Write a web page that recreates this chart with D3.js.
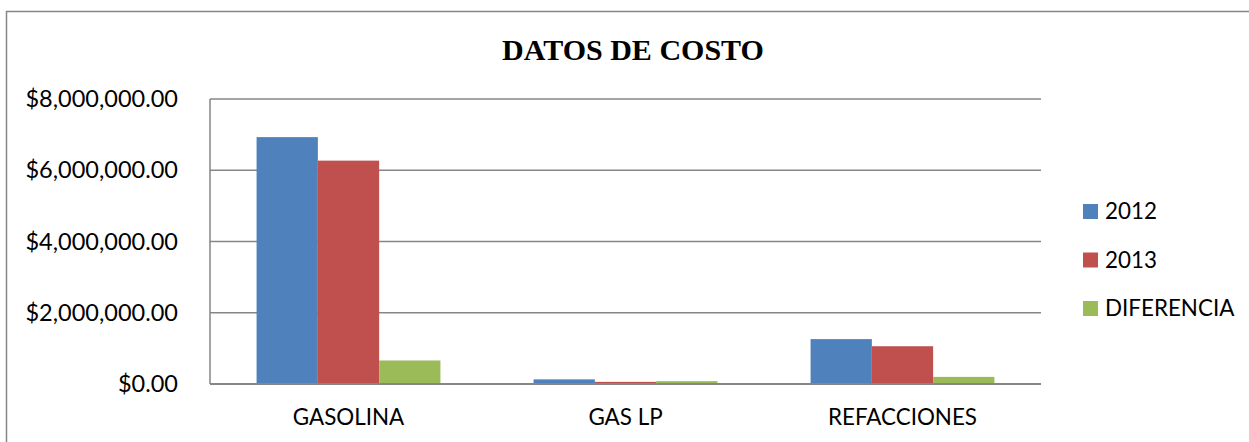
<!DOCTYPE html>
<html>
<head>
<meta charset="utf-8">
<style>
    body { margin: 0; background: #fff; }
    svg { display: block; }
    .tick-label, .cat-label, .legend-label {
        font-family: Lato, 'Open Sans', sans-serif;
        fill: #000;
    }
    .title {
        font-family: 'Liberation Serif', 'DejaVu Serif', serif;
        font-weight: bold;
    }
</style>
</head>
<body>
<svg width="1249" height="442"></svg>

<script src="https://d3js.org/d3.v7.min.js"></script>
<script>
    // data
    let categories = ["GASOLINA", "GAS LP", "REFACCIONES"]
    let seriesNames = ["2012", "2013", "DIFERENCIA"]
    let values2012 = [6930000, 130000, 1260000]
    let values2013 = [6270000, 60000, 1060000]
    let valuesDif = [660000, 80000, 200000]
    let yTicks = [0, 2000000, 4000000, 6000000, 8000000]

    let colors = ["#4F81BD", "#C0504D", "#9BBB59"]
    let seriesValues = [values2012, values2013, valuesDif]

    let svg = d3.select("svg")

    // outer chart frame
    svg.append("rect")
        .attr("x", 6.5).attr("y", 11.5)
        .attr("width", 1260).attr("height", 450)
        .style("fill", "none")
        .style("stroke", "#868686")
        .style("stroke-width", 1.5)

    let plot = { left: 210, right: 1041, top: 99, bottom: 384 }

    let x = d3.scaleBand()
        .domain(categories)
        .range([plot.left, plot.right])
        .paddingInner(0)
        .paddingOuter(0)

    let xInner = d3.scaleBand()
        .domain(seriesNames)
        .range([0, x.bandwidth()])
        .paddingOuter(0.76)
        .paddingInner(0)

    let y = d3.scaleLinear()
        .domain([0, 8000000])
        .range([plot.bottom, plot.top])

    // gridlines
    svg.append("g")
        .selectAll("line")
        .data(yTicks)
        .join("line")
        .attr("x1", plot.left)
        .attr("x2", plot.right)
        .attr("y1", d => y(d))
        .attr("y2", d => y(d))
        .style("stroke", "#868686")
        .style("stroke-width", 1.5)

    // y axis line
    svg.append("line")
        .attr("x1", plot.left).attr("x2", plot.left)
        .attr("y1", plot.top).attr("y2", plot.bottom)
        .style("stroke", "#868686")
        .style("stroke-width", 1.5)

    let fmt = d => "$" + d3.format(",.2f")(d)

    svg.append("g")
        .selectAll("text")
        .data(yTicks)
        .join("text")
        .attr("class", "tick-label")
        .attr("x", 178)
        .attr("y", d => y(d))
        .attr("dy", "0.35em")
        .attr("text-anchor", "end")
        .style("font-size", "23.5px")
        .text(fmt)

    // bars
    let rows = []
    categories.forEach((c, i) => {
        seriesNames.forEach((s, j) => {
            rows.push({ cat: c, series: s, value: seriesValues[j][i], color: colors[j] })
        })
    })

    svg.append("g")
        .selectAll("rect")
        .data(rows)
        .join("rect")
        .attr("x", d => x(d.cat) + xInner(d.series))
        .attr("width", xInner.bandwidth())
        .attr("y", d => y(d.value))
        .attr("height", d => y(0) - y(d.value))
        .style("fill", d => d.color)

    // x axis line on top of the bars
    svg.append("line")
        .attr("x1", plot.left).attr("x2", plot.right)
        .attr("y1", plot.bottom).attr("y2", plot.bottom)
        .style("stroke", "#868686")
        .style("stroke-width", 2)

    svg.append("g")
        .selectAll("text")
        .data(categories)
        .join("text")
        .attr("class", "cat-label")
        .attr("x", d => x(d) + x.bandwidth() / 2)
        .attr("y", 425)
        .attr("text-anchor", "middle")
        .style("font-size", "22.4px")
        .text(d => d)

    // title
    svg.append("text")
        .attr("class", "title")
        .attr("x", 633)
        .attr("y", 60)
        .attr("text-anchor", "middle")
        .style("font-size", "30px")
        .text("DATOS DE COSTO")

    // legend
    let legend = svg.append("g")
        .selectAll("g")
        .data(seriesNames)
        .join("g")
        .attr("transform", (d, i) => `translate(1083, ${204 + i * 48.5})`)

    legend.append("rect")
        .attr("width", 15).attr("height", 15)
        .style("fill", (d, i) => colors[i])

    legend.append("text")
        .attr("class", "legend-label")
        .attr("x", 22)
        .attr("y", 15)
        .style("font-size", "22.4px")
        .text(d => d)
</script>
</body>
</html>
